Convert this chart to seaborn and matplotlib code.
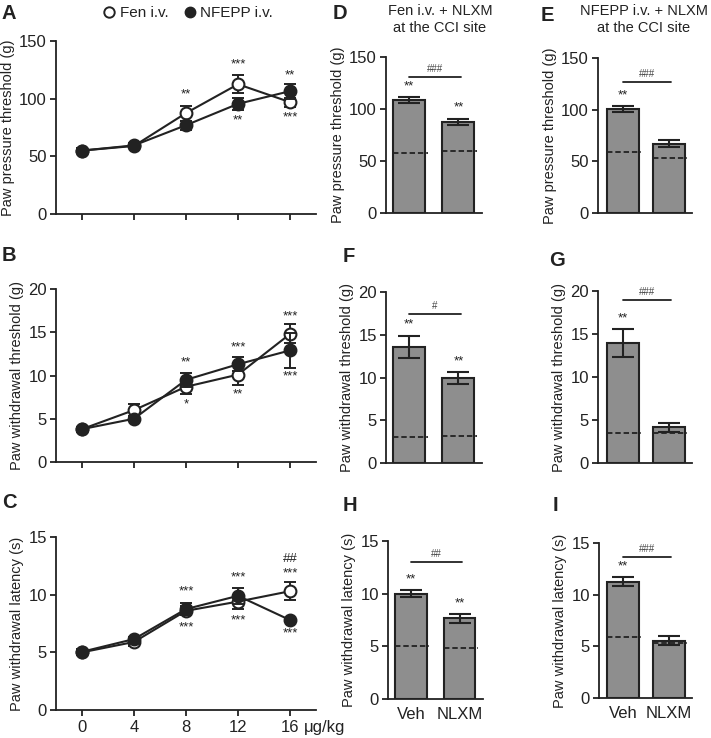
import numpy as np
import matplotlib
matplotlib.use("Agg")
import matplotlib.pyplot as plt
import matplotlib.transforms as mtransforms
from matplotlib.lines import Line2D
import seaborn as sns

# ── data: dose-response (A-C) ────────────────────────────────────────────────
doses = [0, 4, 8, 12, 16]

fen_pp = [55, 59, 87.5, 112.5, 97]
fen_pp_err = [2, 2, 6.5, 8, 4]
nfepp_pp = [55, 59.5, 77, 95.5, 106.5]
nfepp_pp_err = [2, 2, 4, 5, 6.5]

fen_pwt = [3.8, 6.0, 8.7, 10.1, 14.8]
fen_pwt_err = [0.3, 0.7, 0.8, 1.2, 1.1]
nfepp_pwt = [3.8, 5.0, 9.5, 11.3, 12.9]
nfepp_pwt_err = [0.3, 0.3, 0.8, 0.8, 2.0]

fen_pwl = [5.0, 5.9, 8.6, 9.4, 10.3]
fen_pwl_err = [0.2, 0.35, 0.4, 0.6, 0.8]
nfepp_pwl = [5.05, 6.15, 8.75, 9.9, 7.8]
nfepp_pwl_err = [0.2, 0.2, 0.5, 0.7, 0.2]

# significance labels (dose, y, text)
stars_a = [(8, 104, "**"), (12, 130, "***"), (12, 81, "**"), (16, 120, "**"), (16, 84, "***")]
stars_b = [(8, 11.5, "**"), (8, 6.7, "*"), (12, 13.3, "***"), (12, 7.8, "**"),
           (16, 16.8, "***"), (16, 9.9, "***")]
stars_c = [(8, 10.3, "***"), (8, 7.2, "***"), (12, 11.5, "***"), (12, 7.8, "***"),
           (16, 11.8, "***"), (16, 6.6, "***")]
hash_c = [(16, 13.1, "##")]

# ── data: NLXM bar panels (D-I) ──────────────────────────────────────────────
groups = ["Veh", "NLXM"]

d_vals, d_err, d_base = [108.6, 87.8], [3, 3], [57.5, 59.6]
e_vals, e_err, e_base = [100.5, 67], [3, 3.5], [59.4, 53.6]
f_vals, f_err, f_base = [13.6, 9.9], [1.3, 0.7], [3.05, 3.1]
g_vals, g_err, g_base = [13.95, 4.15], [1.6, 0.55], [3.5, 3.5]
h_vals, h_err, h_base = [10.0, 7.65], [0.35, 0.45], [5.06, 4.87]
i_vals, i_err, i_base = [11.25, 5.55], [0.45, 0.45], [5.93, 5.3]

d_stars, d_hash = ["**", "**"], "###"
e_stars, e_hash = ["**", ""], "###"
f_stars, f_hash = ["**", "**"], "#"
g_stars, g_hash = ["**", ""], "###"
h_stars, h_hash = ["**", "**"], "##"
i_stars, i_hash = ["**", ""], "###"

# ── style ────────────────────────────────────────────────────────────────────
sns.set_style("ticks")
plt.rcParams["font.family"] = ["Liberation Sans", "DejaVu Sans"]
plt.rcParams["font.size"] = 11
dark = "#222222"
bar_gray = "#8e8e8e"
plt.rcParams.update({
    "axes.edgecolor": dark, "axes.linewidth": 1.3,
    "xtick.color": dark, "ytick.color": dark,
    "xtick.major.width": 1.3, "ytick.major.width": 1.3,
    "xtick.major.size": 4, "ytick.major.size": 4,
    "xtick.major.pad": 3, "ytick.major.pad": 2.5,
    "xtick.labelsize": 12, "ytick.labelsize": 12,
    "text.color": dark, "axes.labelcolor": dark,
})

W, H = 711, 738
fig = plt.figure(figsize=(W / 100, H / 100), dpi=100)


def rect(l, t, r, b):
    return [l / W, 1 - b / H, (r - l) / W, (b - t) / H]


def dose_panel(pos, fen, fen_err, nfepp, nfepp_err, ymax, step, ylabel, stars, labels):
    ax = fig.add_axes(rect(*pos))
    for vals, errs, face, z in [(fen, fen_err, "white", 3), (nfepp, nfepp_err, dark, 4)]:
        ax.errorbar(doses, vals, yerr=errs, fmt="none", ecolor=dark,
                    elinewidth=1.4, capsize=4, capthick=1.4, zorder=z)
        sns.lineplot(x=doses, y=vals, ax=ax, color=dark, linewidth=1.5,
                     marker="o", markersize=8.5, markerfacecolor=face,
                     markeredgecolor=dark, markeredgewidth=1.5, zorder=z)
    for x, y, s in stars:
        ax.text(x, y, s, ha="center", va="center", fontsize=9.5)
    ax.set_xlim(-2, 18)
    ax.set_ylim(0, ymax)
    ax.set_yticks(np.arange(0, ymax + 1e-9, step))
    ax.set_xticks(doses)
    if labels:
        ax.set_xticklabels([str(d) for d in doses])
    else:
        ax.set_xticklabels([])
    ax.set_ylabel(ylabel, fontsize=10.5, labelpad=3)
    sns.despine(ax=ax)
    return ax


def bar_panel(pos, xlim, width, vals, errs, base, ymax, step, ylabel,
              stars, hashes, bracket_y, xlabels):
    ax = fig.add_axes(rect(*pos))
    sns.barplot(x=groups, y=vals, ax=ax, color=bar_gray, saturation=1,
                edgecolor=dark, linewidth=1.5, width=width)
    ax.errorbar([0, 1], vals, yerr=errs, fmt="none", ecolor=dark,
                elinewidth=1.5, capsize=8, capthick=1.5, zorder=5)
    ax.hlines(base, [-width / 2, 1 - width / 2], [width / 2 + 0.05, 1 + width / 2 + 0.05],
              colors=dark, linestyles=(0, (3, 1.6)), linewidth=1.3, zorder=6)
    for x, (v, e, s) in enumerate(zip(vals, errs, stars)):
        if s:
            ax.text(x, v + e + ymax * 0.03, s, ha="center", va="bottom", fontsize=9.5)
    ax.plot([0, 1.05], [bracket_y, bracket_y], color=dark, linewidth=1.3, clip_on=False)
    ax.text(0.52, bracket_y + ymax * 0.02, hashes, ha="center", va="bottom",
            fontsize=7, color="#444444")
    ax.set_xlim(*xlim)
    ax.set_ylim(0, ymax)
    ax.set_yticks(np.arange(0, ymax + 1e-9, step))
    ax.tick_params(axis="x", length=0, pad=6)
    if xlabels:
        ax.set_xticks([0, 1])
        ax.set_xticklabels(groups)
    else:
        ax.set_xticklabels([])
    ax.set_xlabel("")
    ax.set_ylabel(ylabel, fontsize=10.5, labelpad=3)
    sns.despine(ax=ax)
    return ax


ylab_pp = "Paw pressure threshold (g)"
ylab_pwt = "Paw withdrawal threshold (g)"
ylab_pwl = "Paw withdrawal latency (s)"

dose_panel((56, 41, 316, 214), fen_pp, fen_pp_err, nfepp_pp, nfepp_pp_err,
           150, 50, ylab_pp, stars_a, False)
dose_panel((56, 289, 316, 462), fen_pwt, fen_pwt_err, nfepp_pwt, nfepp_pwt_err,
           20, 5, ylab_pwt, stars_b, False)
ax_c = dose_panel((56, 537, 316, 710), fen_pwl, fen_pwl_err, nfepp_pwl, nfepp_pwl_err,
                  15, 5, ylab_pwl, stars_c + hash_c, True)
unit_tr = mtransforms.offset_copy(
    mtransforms.blended_transform_factory(ax_c.transData, ax_c.transAxes),
    fig=fig, y=-7, units="points")
ax_c.text(17.05, 0, "μg/kg", transform=unit_tr, ha="left", va="top", fontsize=12)

col1 = (-0.47, 1.48)
col2 = (-0.53, 1.5)
bar_panel((386, 57, 482, 213), col1, 0.65, d_vals, d_err, d_base, 150, 50, ylab_pp,
          d_stars, d_hash, 131, False)
bar_panel((386, 292, 482, 463), col1, 0.65, f_vals, f_err, f_base, 20, 5, ylab_pwt,
          f_stars, f_hash, 17.4, False)
bar_panel((388, 541, 483, 699), col1, 0.65, h_vals, h_err, h_base, 15, 5, ylab_pwl,
          h_stars, h_hash, 13.0, True)
bar_panel((598, 58, 692, 213), col2, 0.69, e_vals, e_err, e_base, 150, 50, ylab_pp,
          e_stars, e_hash, 127, False)
bar_panel((598, 291, 692, 463), col2, 0.69, g_vals, g_err, g_base, 20, 5, ylab_pwt,
          g_stars, g_hash, 18.95, False)
bar_panel((599, 543, 692, 698), col2, 0.69, i_vals, i_err, i_base, 15, 5, ylab_pwl,
          i_stars, i_hash, 13.6, True)

# ── panel letters, titles, legend ────────────────────────────────────────────
letters = [("A", 2, 4), ("B", 2, 246), ("C", 2, 493), ("D", 333, 4), ("E", 541, 6),
           ("F", 343, 247), ("G", 549, 251), ("H", 343, 496), ("I", 553, 496)]
for s, x, y in letters:
    fig.text(x / W, 1 - y / H, s, fontsize=14.5, fontweight="bold", ha="left", va="top")

fig.text(440 / W, 1 - 4 / H, "Fen i.v. + NLXM\nat the CCI site", ha="center", va="top",
         fontsize=10.5, linespacing=1.25)
fig.text(644 / W, 1 - 4 / H, "NFEPP i.v. + NLXM\nat the CCI site", ha="center", va="top",
         fontsize=10.5, linespacing=1.25)

handles = [
    Line2D([], [], ls="none", marker="o", markersize=7.5, markerfacecolor="white",
           markeredgecolor=dark, markeredgewidth=1.4, label="Fen i.v."),
    Line2D([], [], ls="none", marker="o", markersize=7.5, markerfacecolor=dark,
           markeredgecolor=dark, label="NFEPP i.v."),
]
fig.legend(handles=handles, loc="center", bbox_to_anchor=(188 / W, 1 - 13 / H), ncol=2,
           frameon=False, fontsize=11, handlelength=0.8, handletextpad=0.3,
           columnspacing=1.0, borderpad=0)

fig.savefig("out.png", dpi=100)
